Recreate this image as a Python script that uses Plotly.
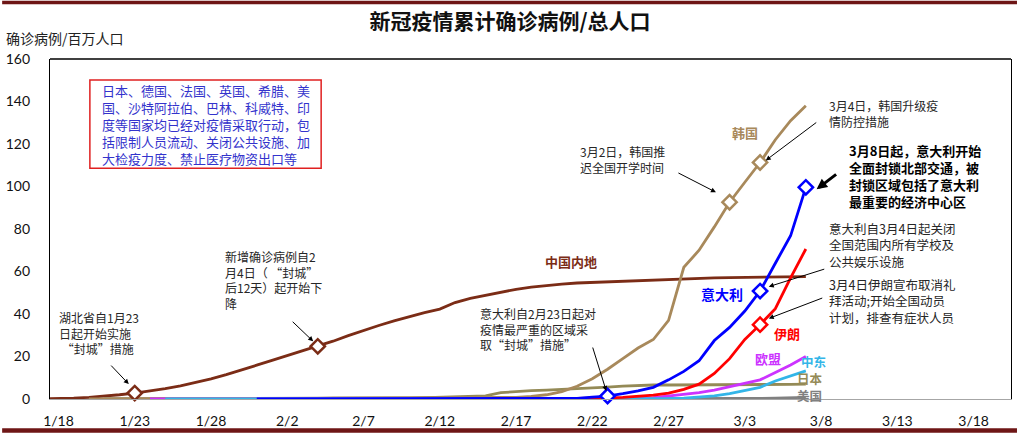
import pandas as pd
import plotly.graph_objects as go

# ---------------- data (confirmed cases per million population) ----------------
china_start = "2020-01-17"
china_vals = [0.1, 0.2, 0.4, 0.8, 1.3, 2.0, 2.8, 3.8, 4.9, 6.2,
              7.8, 9.5, 11.5, 13.6, 15.9, 18.2, 20.4, 22.6, 24.8, 27.2,
              29.8, 32.3, 34.6, 36.8, 38.8, 40.6, 42.3, 45.4, 47.4, 48.9,
              50.4, 51.6, 52.6, 53.5, 54.1, 54.6, 54.9, 55.2, 55.5, 55.8,
              56.1, 56.4, 56.6, 56.8, 57.0, 57.1, 57.2, 57.3, 57.4, 57.5, 57.6]

usa_start = "2020-01-21"
usa_vals = [0.003, 0.003, 0.006, 0.006, 0.006, 0.006, 0.009, 0.009, 0.009, 0.009,
            0.012, 0.012, 0.015, 0.015, 0.015, 0.015, 0.015, 0.015, 0.015, 0.018,
            0.018, 0.018, 0.018, 0.018, 0.018, 0.018, 0.018, 0.018, 0.018, 0.018,
            0.045, 0.045, 0.045, 0.045, 0.045, 0.045, 0.05, 0.05,
            0.07, 0.09, 0.1, 0.15, 0.2, 0.3, 0.4, 0.6, 0.8]

japan_start = "2020-01-21"
japan_vals = [0.01, 0.01, 0.02, 0.02, 0.03, 0.04, 0.05, 0.06, 0.08, 0.1,
              0.12, 0.13, 0.15, 0.16, 0.18, 0.2, 0.25, 0.28, 0.3, 0.35,
              0.45, 0.6, 0.8, 1.0, 1.2, 1.5,
              3.0, 3.6, 3.9, 4.2, 4.5, 4.8, 5.1, 5.6, 6.1, 6.5,
              6.6, 6.6, 6.6, 6.7, 6.7, 6.7, 6.8, 6.8, 6.9, 6.9, 7.0]

korea_start = "2020-01-20"
korea_vals = [0.02, 0.02, 0.04, 0.04, 0.04, 0.08, 0.08, 0.08, 0.08, 0.2,
              0.24, 0.24, 0.3, 0.3, 0.32, 0.36, 0.46, 0.48, 0.5, 0.54,
              0.56, 0.56, 0.56, 0.6, 0.6, 0.62, 0.62, 0.62,
              0.8, 1.2, 2.0, 3.5, 6.0, 9.5, 14, 19, 24, 28,
              37, 62, 70, 81, 92.6, 102, 111.3, 122, 131, 138]

eu_start = "2020-01-24"
eu_vals = [0.0, 0.0, 0.001, 0.001, 0.002, 0.003, 0.003, 0.004, 0.004, 0.005,
           0.005, 0.005, 0.006, 0.006, 0.006, 0.006, 0.006, 0.007, 0.007, 0.008,
           0.008, 0.008, 0.008, 0.008, 0.008, 0.008, 0.008, 0.009, 0.01, 0.03,
           0.1, 0.2, 0.35, 0.6, 1.3, 2.0, 3.0, 4.2, 5.7, 7.2, 9.0, 12.5, 16, 20]

me_start = "2020-01-25"
me_vals = [0.0, 0.0, 0.0, 0.0, 0.0, 0.0, 0.0, 0.0, 0.0, 0.0,
           0.001, 0.001, 0.001, 0.001, 0.001, 0.001, 0.001, 0.001, 0.001, 0.001,
           0.001, 0.001, 0.001, 0.001, 0.001, 0.001, 0.001, 0.002, 0.003, 0.005,
           0.01, 0.03, 0.08,
           0.2, 0.4, 0.8, 1.5, 2.5, 4.0, 5.5, 8.5, 11, 13.2]

iran_start = "2020-02-19"
iran_vals = [0.02, 0.06, 0.2, 0.35, 0.5, 0.8, 1.2, 1.8, 2.8, 4.5,
             7, 12, 19, 28, 35, 42.5, 57, 70.6]

italy_start = "2020-01-31"
italy_vals = [0.03, 0.03, 0.03, 0.03, 0.03, 0.03, 0.03,
              0.05, 0.05, 0.05, 0.05, 0.05, 0.05, 0.05, 0.05, 0.05, 0.05, 0.05, 0.05, 0.05, 0.05,
              0.3, 0.9, 1.4, 2.5, 3.8, 5.5, 9, 13, 18, 27.5,
              33.7, 41.4, 50.8, 63.9, 76.8, 99.6]

china_marks = ["2020-01-23", "2020-02-04"]
korea_marks = ["2020-03-02", "2020-03-04"]
italy_marks = ["2020-02-23", "2020-03-04", "2020-03-07"]
iran_marks = ["2020-03-04"]

tick_dates = ["2020-01-18", "2020-01-23", "2020-01-28", "2020-02-02", "2020-02-07",
              "2020-02-12", "2020-02-17", "2020-02-22", "2020-02-27", "2020-03-03",
              "2020-03-08", "2020-03-13", "2020-03-18"]
tick_text = ["1/18", "1/23", "1/28", "2/2", "2/7", "2/12", "2/17", "2/22", "2/27",
             "3/3", "3/8", "3/13", "3/18"]

# ---------------- styling ----------------
FONT = "Noto Sans CJK SC"
C_CHINA = "#7B2C16"
C_KOREA = "#A8895B"
C_JAPAN = "#948A56"
C_USA = "#808080"
C_EU = "#CC33FF"
C_ME = "#33B5E8"
C_IRAN = "#FF0000"
C_ITALY = "#0000FF"

W, H = 1018, 435
L, R, T, B = 48, 6, 59, 34
PW, PH = W - L - R, H - T - B


def pxx(x):
    return (x - L) / PW


def pxy(y):
    return (H - B - y) / PH


def dates_for(start, vals):
    return pd.date_range(start, periods=len(vals), freq="D")


fig = go.Figure()

series = [
    (china_start, china_vals, C_CHINA),
    (usa_start, usa_vals, C_USA),
    (japan_start, japan_vals, C_JAPAN),
    (korea_start, korea_vals, C_KOREA),
    (eu_start, eu_vals, C_EU),
    (me_start, me_vals, C_ME),
    (iran_start, iran_vals, C_IRAN),
    (italy_start, italy_vals, C_ITALY),
]
lookup = {}
for start, vals, col in series:
    d = dates_for(start, vals)
    lookup[col] = dict(zip(d.strftime("%Y-%m-%d"), vals))
    fig.add_trace(go.Scatter(x=d, y=vals, mode="lines",
                             line=dict(color=col, width=2.8),
                             showlegend=False, hoverinfo="skip"))

for marks, col in [(china_marks, C_CHINA), (korea_marks, C_KOREA),
                   (italy_marks, C_ITALY), (iran_marks, C_IRAN)]:
    fig.add_trace(go.Scatter(
        x=pd.to_datetime(marks), y=[lookup[col][m] for m in marks], mode="markers",
        marker=dict(symbol="diamond", size=11, color="white",
                    line=dict(color=col, width=2.5)),
        cliponaxis=False, showlegend=False, hoverinfo="skip"))

base = pd.Timestamp("2020-01-18")
x0 = base + pd.Timedelta(days=(L - 56.5) / 15.3)
x1 = base + pd.Timedelta(days=(W - R - 56.5) / 15.3)

fig.update_layout(
    width=W, height=H,
    margin=dict(l=L, r=R, t=T, b=B, pad=0),
    paper_bgcolor="white", plot_bgcolor="white",
    font=dict(family=FONT, color="#222222"),
    title=dict(text="<b>新冠疫情累计确诊病例/总人口</b>",
               font=dict(family=FONT, size=21, color="#111111"),
               x=510 / W, xref="container", xanchor="center",
               y=1 - 22 / H, yref="container", yanchor="middle"),
    xaxis=dict(type="date", range=[x0, x1], tickvals=pd.to_datetime(tick_dates),
               ticktext=tick_text, showgrid=False, zeroline=False,
               showline=True, linecolor="#A6A6A6", linewidth=1,
               ticks="", ticklabelstandoff=9,
               tickfont=dict(family="Lato", size=14, color="#111111")),
    yaxis=dict(range=[0, 160], tickvals=[0, 20, 40, 60, 80, 100, 120, 140, 160],
               showgrid=False, zeroline=False,
               showline=True, linecolor="black", linewidth=1.3, mirror=True,
               ticks="", ticklabelstandoff=16,
               tickfont=dict(family="Lato", size=14, color="#111111")),
)

shapes = [
    # top border of plot
    dict(type="line", xref="paper", yref="paper", x0=0, x1=1, y0=1, y1=1,
         line=dict(color="black", width=1.3)),
    # page frame bars
    dict(type="rect", xref="paper", yref="paper", x0=pxx(0), x1=pxx(W),
         y0=pxy(4), y1=pxy(0.5), line=dict(width=0), fillcolor="#6E1616"),
    dict(type="rect", xref="paper", yref="paper", x0=pxx(0), x1=pxx(W),
         y0=pxy(435), y1=pxy(430.5), line=dict(width=0), fillcolor="#6E1616"),
    # red frame around note
    dict(type="rect", xref="paper", yref="paper", x0=pxx(88), x1=pxx(320),
         y0=pxy(169), y1=pxy(80), line=dict(color="#E02020", width=1.5),
         fillcolor="rgba(0,0,0,0)"),
]
fig.update_layout(shapes=shapes)

ann = []


def text(x, y, t, size=12, color="#262626", xanchor="left", bold=False):
    if bold:
        t = "<b>" + t + "</b>"
    ann.append(dict(xref="paper", yref="paper", x=pxx(x), y=pxy(y), text=t,
                    showarrow=False, xanchor=xanchor, yanchor="middle", align="left",
                    font=dict(family=FONT, size=size, color=color)))


def arrow(tail, head, width=1.0, size=1.0):
    ann.append(dict(xref="paper", yref="paper", x=pxx(head[0]), y=pxy(head[1]),
                    ax=tail[0] - head[0], ay=tail[1] - head[1], text="",
                    showarrow=True, arrowhead=2, arrowsize=size, arrowwidth=width,
                    arrowcolor="black"))


# axis title
text(2, 38, "确诊病例/百万人口", size=14, color="#222222")

# note box
text(98, 125, "日本、德国、法国、英国、希腊、美<br>国、沙特阿拉伯、巴林、科威特、印<br>"
     "度等国家均已经对疫情采取行动，包<br>括限制人员流动、关闭公共设施、加<br>"
     "大检疫力度、禁止医疗物资出口等", size=13, color="#3333CC")

# event notes
text(55, 335, "湖北省自1月23<br>日起开始实施<br> “封城”措施", size=12)
text(222, 281, "新增确诊病例自2<br>月4日（ “封城”<br>后12天）起开始下<br>降", size=12)
text(477, 331, "意大利自2月23日起对<br>疫情最严重的区域采<br>取“封城”措施”", size=12)
text(578, 160, "3月2日，韩国推<br>迟全国开学时间", size=12)
text(827, 114, "3月4日，韩国升级疫<br>情防控措施", size=12)
text(847, 177, "3月8日起，意大利开始<br>全面封锁北部交通，被<br>封锁区域包括了意大利<br>最重要的经济中心区",
     size=13, color="#000000", bold=True)
text(827, 246, "意大利自3月4日起关闭<br>全国范围内所有学校及<br>公共娱乐设施", size=12.5)
text(827, 302, "3月4日伊朗宣布取消礼<br>拜活动;开始全国动员<br>计划，排查有症状人员", size=12.5)

arrow((108, 366), (127, 386))
arrow((290, 322), (312, 343))
arrow((592, 348), (606, 393))
arrow((677, 173), (716, 193))
arrow((818, 122), (766, 161))
arrow((838, 174), (817, 190), width=3, size=0.7)
arrow((826, 270), (769, 288))
arrow((824, 299), (769, 320))

# series labels
text(571, 263, "中国内地", size=13, color=C_CHINA, xanchor="center", bold=True)
text(745, 133, "韩国", size=13, color=C_KOREA, xanchor="center", bold=True)
text(722, 295, "意大利", size=14, color=C_ITALY, xanchor="center", bold=True)
text(787, 335, "伊朗", size=13, color=C_IRAN, xanchor="center", bold=True)
text(768, 360, "欧盟", size=13, color=C_EU, xanchor="center", bold=True)
text(814, 363, "中东", size=12.5, color=C_ME, xanchor="center", bold=True)
text(810, 380, "日本", size=12.5, color=C_JAPAN, xanchor="center", bold=True)
text(810, 397, "美国", size=12.5, color=C_USA, xanchor="center", bold=True)

fig.update_layout(annotations=ann)

fig.write_html("out.html")
